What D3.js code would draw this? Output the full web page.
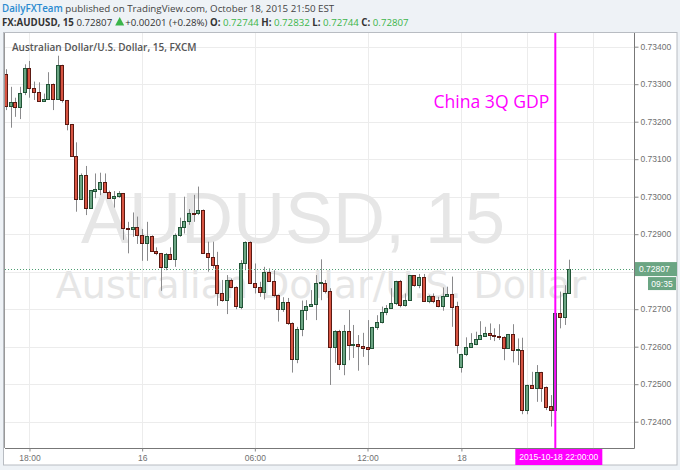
<!DOCTYPE html>
<html><head><meta charset="utf-8">
<script src="https://cdn.jsdelivr.net/npm/d3@7"></script>
<style>
html,body{margin:0;padding:0;background:#eef2f6;}
svg{display:block;}
</style></head>
<body>
<svg id="chart" width="680" height="470"></svg>
<script>
// ---- data (15-minute AUDUSD bars) ----
const opens = [0.73327,0.73242,0.73252,0.73240,0.73278,0.73344,0.73289,0.73280,0.73256,0.73260,
0.73300,0.73261,0.73351,0.73257,0.73193,0.73109,0.72994,0.73058,0.72969,0.73016,
0.73020,0.73040,0.73013,0.72996,0.73002,0.73009,0.72917,0.72915,0.72920,0.72898,
0.72877,0.72896,0.72856,0.72849,0.72812,0.72846,0.72834,0.72898,0.72918,0.72936,
0.72957,0.72956,0.72965,0.72851,0.72838,0.72818,0.72742,0.72724,0.72778,0.72760,
0.72707,0.72822,0.72880,0.72769,0.72760,0.72747,0.72800,0.72776,0.72738,0.72700,
0.72720,0.72664,0.72566,0.72648,0.72698,0.72709,0.72713,0.72771,0.72771,0.72748,
0.72600,0.72643,0.72554,0.72643,0.72604,0.72606,0.72602,0.72598,0.72597,0.72652,
0.72667,0.72692,0.72704,0.72716,0.72775,0.72711,0.72724,0.72790,0.72764,0.72785,
0.72722,0.72735,0.72724,0.72709,0.72735,0.72740,0.72709,0.72547,0.72580,0.72600,
0.72606,0.72620,0.72629,0.72636,0.72631,0.72629,0.72627,0.72596,0.72633,0.72590,
0.72591,0.72431,0.72498,0.72491,0.72532,0.72493,0.72442,0.72431,0.72689,0.72680,
0.72744];
const highs = [0.73340,0.73293,0.73264,0.73293,0.73353,0.73362,0.73307,0.73305,0.73275,0.73332,
0.73302,0.73376,0.73352,0.73258,0.73194,0.73145,0.73062,0.73082,0.73018,0.73062,
0.73064,0.73062,0.73016,0.73015,0.73015,0.73010,0.72933,0.72958,0.72947,0.72914,
0.72933,0.72897,0.72865,0.72850,0.72850,0.72865,0.72902,0.72944,0.73000,0.72967,
0.73005,0.73027,0.72966,0.72880,0.72880,0.72853,0.72778,0.72791,0.72782,0.72761,
0.72831,0.72881,0.72881,0.72822,0.72773,0.72813,0.72809,0.72804,0.72739,0.72732,
0.72730,0.72665,0.72653,0.72723,0.72724,0.72751,0.72791,0.72833,0.72778,0.72756,
0.72644,0.72645,0.72658,0.72698,0.72658,0.72631,0.72637,0.72671,0.72653,0.72684,
0.72707,0.72711,0.72756,0.72776,0.72778,0.72742,0.72791,0.72791,0.72794,0.72794,
0.72738,0.72742,0.72733,0.72758,0.72760,0.72787,0.72720,0.72581,0.72625,0.72636,
0.72640,0.72668,0.72653,0.72662,0.72649,0.72660,0.72628,0.72634,0.72660,0.72622,
0.72624,0.72499,0.72533,0.72551,0.72533,0.72494,0.72471,0.72690,0.72747,0.72764,
0.72832];
const lows = [0.73231,0.73184,0.73213,0.73207,0.73271,0.73264,0.73258,0.73254,0.73253,0.73258,
0.73231,0.73260,0.73251,0.73177,0.73108,0.72960,0.72992,0.72951,0.72968,0.72996,
0.73004,0.73012,0.72994,0.72971,0.72997,0.72885,0.72849,0.72893,0.72874,0.72829,
0.72829,0.72855,0.72844,0.72749,0.72804,0.72833,0.72813,0.72893,0.72902,0.72925,
0.72933,0.72951,0.72850,0.72800,0.72809,0.72709,0.72720,0.72687,0.72756,0.72700,
0.72700,0.72804,0.72768,0.72742,0.72733,0.72726,0.72773,0.72733,0.72667,0.72693,
0.72658,0.72531,0.72556,0.72628,0.72671,0.72707,0.72671,0.72724,0.72742,0.72498,
0.72557,0.72538,0.72524,0.72564,0.72570,0.72536,0.72573,0.72551,0.72596,0.72645,
0.72662,0.72684,0.72702,0.72711,0.72705,0.72707,0.72723,0.72760,0.72756,0.72721,
0.72716,0.72716,0.72705,0.72696,0.72733,0.72653,0.72582,0.72531,0.72575,0.72598,
0.72604,0.72618,0.72628,0.72618,0.72615,0.72618,0.72564,0.72594,0.72558,0.72551,
0.72420,0.72420,0.72489,0.72453,0.72453,0.72431,0.72387,0.72430,0.72649,0.72658,
0.72744];
const closes = [0.73243,0.73252,0.73240,0.73277,0.73344,0.73289,0.73280,0.73256,0.73260,0.73300,
0.73261,0.73351,0.73257,0.73193,0.73109,0.72994,0.73058,0.72969,0.73017,0.73020,
0.73040,0.73013,0.72996,0.73002,0.73011,0.72916,0.72914,0.72920,0.72898,0.72877,
0.72896,0.72856,0.72849,0.72812,0.72846,0.72834,0.72898,0.72918,0.72936,0.72956,
0.72955,0.72965,0.72851,0.72838,0.72818,0.72742,0.72724,0.72778,0.72760,0.72708,
0.72822,0.72880,0.72769,0.72760,0.72747,0.72800,0.72776,0.72738,0.72700,0.72720,
0.72664,0.72566,0.72648,0.72698,0.72709,0.72713,0.72771,0.72773,0.72748,0.72600,
0.72643,0.72554,0.72643,0.72604,0.72607,0.72602,0.72596,0.72595,0.72652,0.72667,
0.72692,0.72704,0.72716,0.72775,0.72711,0.72724,0.72790,0.72764,0.72785,0.72722,
0.72735,0.72722,0.72709,0.72735,0.72740,0.72707,0.72604,0.72580,0.72598,0.72609,
0.72620,0.72631,0.72636,0.72631,0.72628,0.72626,0.72596,0.72633,0.72591,0.72593,
0.72431,0.72498,0.72491,0.72533,0.72491,0.72440,0.72431,0.72689,0.72680,0.72742,
0.72807];

const priceTicks = [0.724,0.725,0.726,0.727,0.728,0.729,0.730,0.731,0.732,0.733,0.734];
const timeTickIndex = [5, 29, 53, 77, 97, 111, 125];
const timeTickLabels = ["18:00","16","06:00","12:00","18","",""];
const eventIndex = 117;
const eventLabel = "China 3Q GDP";
const eventTimeLabel = "2015-10-18 22:00:00";
const lastPrice = 0.72807;
const countdown = "09:35";

// ---- layout ----
const svg = d3.select("#chart");
const pane = {left:5, top:33, right:634, bottom:448};
const axisRight = 677, axisBottom = 465;

const x = d3.scaleLinear().domain([0, 120]).range([6, 6 + 120*4.695]);
const y = d3.scaleLinear().domain([0.724, 0.734]).range([421.7, 46.7]);

const upFill = "#6ba583", upBorder = "#225437";
const dnFill = "#d75442", dnBorder = "#5b1a13";
const wickColor = "#8a8a8c";
const axisText = "#707070";

// header
const hdr = svg.append("text").attr("x", 2).attr("y", 12)
  .style("font-family", "'Open Sans', sans-serif").style("font-size", "9.75px");
hdr.append("tspan").attr("fill", "#2a8ad0").attr("font-weight", "600").text("DailyFXTeam");
hdr.append("tspan").attr("fill", "#444").text(" published on TradingView.com, October 18, 2015 21:50 EST");

const green = "#3bb54a";
const hFont = g => g.style("font-family", "'Open Sans', sans-serif").style("font-size", "9.7px").attr("fill", "#333");
const l2a = svg.append("text").attr("x", 2).attr("y", 26).call(hFont);
l2a.append("tspan").attr("font-weight", "700").text("FX:AUDUSD, 15 ");
l2a.append("tspan").text(d3.format(".5f")(lastPrice));
const wA = l2a.node().getComputedTextLength();
const triX = 2 + wA + 3;
svg.append("path").attr("d", `M${triX},25.5 L${triX + 9},25.5 L${triX + 4.5},17 Z`).attr("fill", green);
const l2 = svg.append("text").attr("x", triX + 10).attr("y", 26).call(hFont);
l2.append("tspan").text(" +0.00201 (+0.28%) ");
const ohlc = [["O:", opens[120]], ["H:", highs[120]], ["L:", lows[120]], ["C:", closes[120]]];
ohlc.forEach(([k, v], j) => {
  l2.append("tspan").attr("font-weight", "700").text((j ? " " : "") + k);
  l2.append("tspan").attr("fill", green).text(" " + d3.format(".5f")(v));
});

// chart frame background
svg.append("rect").attr("x", 3.5).attr("y", 32.5).attr("width", axisRight - 3.5).attr("height", axisBottom - 32.5)
  .attr("fill", "#fff").attr("stroke", "#b8bcc2");

// grid
const grid = svg.append("g");
grid.selectAll("line.h").data(priceTicks).join("line")
  .attr("x1", pane.left).attr("x2", pane.right)
  .attr("y1", d => Math.round(y(d)) + 0.5).attr("y2", d => Math.round(y(d)) + 0.5)
  .attr("stroke", "#ececec");
grid.selectAll("line.v").data(timeTickIndex).join("line")
  .attr("x1", d => Math.round(x(d)) + 0.5).attr("x2", d => Math.round(x(d)) + 0.5)
  .attr("y1", pane.top).attr("y2", pane.bottom)
  .attr("stroke", "#ececec");

// watermark
svg.append("text").attr("x", 293).attr("y", 243).attr("text-anchor", "middle")
  .style("font-family", "'Liberation Sans', Arial, sans-serif").style("font-size", "72px")
  .attr("fill", "#e6e6e6").text("AUDUSD, 15");
svg.append("text").attr("x", 321).attr("y", 298).attr("text-anchor", "middle")
  .style("font-family", "'DejaVu Sans', sans-serif").style("font-size", "38px")
  .attr("fill", "#e6e6e6").text("Australian Dollar/U.S. Dollar");

// legend
svg.append("text").attr("x", 12).attr("y", 51)
  .style("font-family", "'Open Sans', sans-serif").style("font-size", "10px").attr("font-weight", "600")
  .attr("fill", "#555").text("Australian Dollar/U.S. Dollar, 15, FXCM");

// candles
const clip = svg.append("clipPath").attr("id", "pc").append("rect")
  .attr("x", pane.left).attr("y", pane.top).attr("width", pane.right - pane.left).attr("height", pane.bottom - pane.top);
const cg = svg.append("g").attr("clip-path", "url(#pc)");
const idx = d3.range(opens.length);
const px = i => Math.round(x(i));
cg.selectAll("rect.wick").data(idx).join("rect")
  .attr("x", i => px(i)).attr("width", 1)
  .attr("y", i => y(highs[i])).attr("height", i => Math.max(1, y(lows[i]) - y(highs[i])))
  .attr("fill", wickColor);
cg.selectAll("rect.body").data(idx).join("rect")
  .attr("x", i => px(i) - 1.5).attr("width", 3)
  .attr("y", i => Math.round(y(Math.max(opens[i], closes[i]))) + 0.5)
  .attr("height", i => Math.max(1, Math.round(y(Math.min(opens[i], closes[i]))) - Math.round(y(Math.max(opens[i], closes[i])))))
  .attr("fill", i => closes[i] >= opens[i] ? upFill : dnFill)
  .attr("stroke", i => closes[i] >= opens[i] ? upBorder : dnBorder)
  .attr("stroke-width", 1);

// last price dotted line
svg.append("line").attr("x1", pane.left).attr("x2", pane.right)
  .attr("y1", Math.round(y(lastPrice)) + 0.5).attr("y2", Math.round(y(lastPrice)) + 0.5)
  .attr("stroke", "#4f9e72").attr("stroke-dasharray", "1,2");

// event line
const ex = x(eventIndex);
svg.append("line").attr("x1", ex).attr("x2", ex).attr("y1", pane.top).attr("y2", pane.bottom)
  .attr("stroke", "#ff00ff").attr("stroke-width", 2);
svg.append("text").attr("x", ex - 6).attr("y", 108).attr("text-anchor", "end")
  .style("font-family", "'Open Sans', sans-serif").style("font-size", "17.6px")
  .attr("fill", "#ff00ff").text(eventLabel);

// axes lines
svg.append("line").attr("x1", pane.right + 0.5).attr("x2", pane.right + 0.5).attr("y1", pane.top).attr("y2", pane.bottom + 0.5)
  .attr("stroke", "#777");
svg.append("line").attr("x1", pane.left).attr("x2", pane.right + 0.5).attr("y1", pane.bottom + 0.5).attr("y2", pane.bottom + 0.5)
  .attr("stroke", "#777");
svg.append("line").attr("x1", pane.left - 0.5).attr("x2", pane.left - 0.5).attr("y1", pane.top).attr("y2", pane.bottom)
  .attr("stroke", "#999");

// right price axis (the tick under the last-price label is hidden by it)
const yAxis = d3.axisRight(y).tickValues(priceTicks)
  .tickFormat(d => Math.abs(d - lastPrice) < 0.0003 ? "" : d3.format(".5f")(d)).tickSize(4).tickPadding(2);
const ya = svg.append("g").attr("transform", `translate(${pane.right + 0.5},0)`).call(yAxis);
ya.select(".domain").remove();
ya.selectAll("line").attr("stroke", "#888");
ya.selectAll("text").attr("fill", axisText)
  .style("font-family", "'Liberation Sans', Arial, sans-serif").style("font-size", "8.5px");

// bottom time axis
const xAxis = d3.axisBottom(x).tickValues(timeTickIndex).tickFormat((d, j) => timeTickLabels[j]).tickSize(3).tickPadding(3);
const xa = svg.append("g").attr("transform", `translate(0,${pane.bottom + 0.5})`).call(xAxis);
xa.select(".domain").remove();
xa.selectAll("line").attr("stroke", "#888");
xa.selectAll("text").attr("fill", axisText)
  .style("font-family", "'Liberation Sans', Arial, sans-serif").style("font-size", "8.5px");

// last price label
const ly = y(lastPrice);
svg.append("rect").attr("x", pane.right + 1).attr("y", ly - 7).attr("width", 42).attr("height", 14).attr("fill", "#6ba583");
svg.append("text").attr("x", pane.right + 5).attr("y", ly + 3)
  .style("font-family", "'Liberation Sans', Arial, sans-serif").style("font-size", "8.5px").attr("fill", "#fff")
  .text(d3.format(".5f")(lastPrice));
svg.append("rect").attr("x", pane.right + 14).attr("y", ly + 8).attr("width", 28).attr("height", 13).attr("fill", "#6ba583");
svg.append("text").attr("x", pane.right + 28).attr("y", ly + 17.5).attr("text-anchor", "middle")
  .style("font-family", "'Liberation Sans', Arial, sans-serif").style("font-size", "8.5px").attr("fill", "#fff")
  .text(countdown);

// event time label
svg.append("rect").attr("x", ex - 40).attr("y", pane.bottom + 1).attr("width", 87).attr("height", 16).attr("fill", "#ff00ff");
svg.append("text").attr("x", ex + 3.5).attr("y", pane.bottom + 12).attr("text-anchor", "middle")
  .style("font-family", "'Liberation Sans', Arial, sans-serif").style("font-size", "8.5px").attr("fill", "#fff")
  .text(eventTimeLabel);
</script>
</body></html>
